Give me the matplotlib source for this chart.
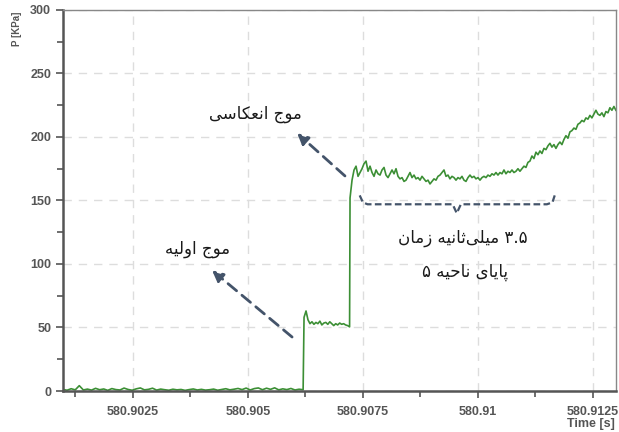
import numpy as np
import matplotlib
matplotlib.use("Agg")
import matplotlib.pyplot as plt
from matplotlib.ticker import MultipleLocator, FuncFormatter

# pressure trace, split where the pressure jumps
base_start, base_end = 580.90098, 580.90620
base_kpa = [1.2, 0.6, 1.8, 0.9, 4.2, 0.8, 1.5, 0.7, 2.1, 1.0, 1.6, 0.5, 1.9, 1.1, 0.8,
            2.3, 1.2, 0.6, 1.7, 2.4, 0.9, 1.3, 2.2, 0.7, 1.5, 1.0, 0.6, 1.4, 0.9, 1.2,
            0.5, 1.1, 1.6, 0.8, 1.3, 0.7, 1.0, 1.5, 0.6, 1.2, 1.8, 0.9, 1.4, 2.0, 1.1,
            2.3, 0.8, 1.9, 2.4, 1.0, 2.2, 1.3, 2.5, 0.9, 1.7, 1.1, 2.0, 0.8, 1.4, 1.0]

incident_start, incident_end = 580.90622, 580.90721
incident_kpa = [58, 63, 56, 53, 54.5, 52.5, 54, 53, 55, 52, 53.5, 54, 52.5, 54.5, 53,
                51.5, 53, 52, 53.5, 52.5, 53, 52, 51.5, 50.5]

reflected_start, reflected_end = 580.90722, 580.91300
reflected_kpa = [152, 166, 174, 177, 169, 172, 175, 179, 181, 173, 177, 172, 169, 174, 171,
                 170, 174, 176, 170, 168, 171, 174, 171, 175, 169, 167, 168, 165, 166, 169,
                 172, 168, 170, 167, 168, 166, 169, 167, 165, 166, 163, 165, 167, 166, 169,
                 170, 172, 174, 169, 170, 167, 169, 168, 166, 168, 167, 169, 166, 165, 168,
                 170, 168, 169, 167, 168, 166, 168, 169, 168, 170, 169, 171, 170, 172, 170,
                 172, 171, 174, 171, 173, 172, 174, 172, 173, 175, 173, 175, 177, 176, 180,
                 181, 185, 183, 188, 186, 189, 187, 191, 190, 193, 195, 192, 194, 191, 194,
                 196, 194, 198, 201, 199, 204, 205, 207, 206, 210, 211, 213, 212, 215, 214,
                 217, 215, 218, 221, 218, 217, 219, 216, 220, 219, 223, 221, 224, 221]

# Persian letter forms: isolated, final, initial, medial (None = does not join forward)
FORMS = {
    "ا": ("\uFE8D", "\uFE8E", None, None),
    "و": ("\uFEED", "\uFEEE", None, None),
    "ز": ("\uFEAF", "\uFEB0", None, None),
    "ث": ("\uFE99", "\uFE9A", "\uFE9B", "\uFE9C"),
    "ج": ("\uFE9D", "\uFE9E", "\uFE9F", "\uFEA0"),
    "ح": ("\uFEA1", "\uFEA2", "\uFEA3", "\uFEA4"),
    "س": ("\uFEB1", "\uFEB2", "\uFEB3", "\uFEB4"),
    "ع": ("\uFEC9", "\uFECA", "\uFECB", "\uFECC"),
    "ل": ("\uFEDD", "\uFEDE", "\uFEDF", "\uFEE0"),
    "م": ("\uFEE1", "\uFEE2", "\uFEE3", "\uFEE4"),
    "ن": ("\uFEE5", "\uFEE6", "\uFEE7", "\uFEE8"),
    "ه": ("\uFEE9", "\uFEEA", "\uFEEB", "\uFEEC"),
    "ی": ("\uFBFC", "\uFBFD", "\uFBFE", "\uFBFF"),
    "ک": ("\uFB8E", "\uFB8F", "\uFB90", "\uFB91"),
    "پ": ("\uFB56", "\uFB57", "\uFB58", "\uFB59"),
}


def joins_forward(ch):
    return ch in FORMS and FORMS[ch][2] is not None


def persian(text):
    shaped = []
    for i, ch in enumerate(text):
        if ch not in FORMS:
            if ch != "\u200c":
                shaped.append(ch)
            continue
        prev_ch = text[i - 1] if i > 0 else ""
        next_ch = text[i + 1] if i + 1 < len(text) else ""
        back = joins_forward(prev_ch)
        fwd = joins_forward(ch) and next_ch in FORMS
        iso, fin, ini, med = FORMS[ch]
        if back and fwd:
            shaped.append(med)
        elif back:
            shaped.append(fin)
        elif fwd:
            shaped.append(ini)
        else:
            shaped.append(iso)
    words = "".join(shaped).split(" ")
    out = []
    for w in reversed(words):
        if any(c in "۰۱۲۳۴۵۶۷۸۹" for c in w):
            out.append(w)
        else:
            out.append(w[::-1])
    return " ".join(out)


time = np.concatenate([np.linspace(base_start, base_end, len(base_kpa)),
                       np.linspace(incident_start, incident_end, len(incident_kpa)),
                       np.linspace(reflected_start, reflected_end, len(reflected_kpa))])
pressure = np.array(base_kpa + incident_kpa + reflected_kpa)

fig = plt.figure(figsize=(6.19, 4.32), dpi=100)
ax = fig.add_axes([0.1018, 0.0949, 0.8932, 0.8821])

ax.plot(time, pressure, color="#3c8f35", lw=1.2)

ax.set_xlim(580.90098, 580.9130)
ax.set_ylim(0, 300)
ax.xaxis.set_major_locator(MultipleLocator(0.0025))
ax.xaxis.set_minor_locator(MultipleLocator(0.00125))
ax.yaxis.set_major_locator(MultipleLocator(50))
ax.yaxis.set_minor_locator(MultipleLocator(25))
ax.xaxis.set_major_formatter(FuncFormatter(lambda v, p: f"{v:.4f}".rstrip("0").rstrip(".")))

tick_font = dict(family="Liberation Sans", weight="bold", size=9)
for lab in ax.get_xticklabels() + ax.get_yticklabels():
    lab.set_fontproperties(matplotlib.font_manager.FontProperties(**tick_font))
    lab.set_color("#555555")
ax.tick_params(which="both", direction="out", color="#555555", width=1.2)
ax.tick_params(which="major", length=5)
ax.tick_params(which="minor", length=4)
ax.tick_params(axis="x", pad=6)

ax.grid(True, which="major", color="#dddddd", lw=1, linestyle=(0, (6, 5)))
for side in ["left", "bottom"]:
    ax.spines[side].set_color("#555555")
    ax.spines[side].set_linewidth(1.8)
for side in ["top", "right"]:
    ax.spines[side].set_color("#888888")
    ax.spines[side].set_linewidth(1.0)

fig.text(17 / 619, 1 - 12 / 432, "P [KPa]", rotation=90, ha="center", va="top",
         color="#555555", family="Liberation Sans", weight="bold", size=7)
fig.text(615 / 619, 1 - 424 / 432, "Time [s]", ha="right", va="center",
         color="#555555", family="Liberation Sans", weight="bold", size=9)

# annotations
arrow_color = "#44546a"
fa_font = dict(family="DejaVu Sans", size=12, color="#1a1a1a", ha="center", va="center")
arrow = dict(arrowstyle="-|>", color=arrow_color, lw=2, linestyle=(0, (4, 2.5)),
             mutation_scale=16, shrinkA=0, shrinkB=0)

ax.text(580.90517, 218, persian("موج انعکاسی"), **fa_font)
ax.annotate("", xy=(580.90607, 203), xytext=(580.90711, 169.3), arrowprops=arrow)

ax.text(580.90391, 112, persian("موج اولیه"), **fa_font)
ax.annotate("", xy=(580.90422, 95), xytext=(580.90596, 42.5), arrowprops=arrow)

# brace under the steady part
bx = [580.90743, 580.90750, 580.90760, 580.90945, 580.90954, 580.90963,
      580.91150, 580.91162, 580.91167]
by = [154, 148.5, 147, 147, 140, 147, 147, 148.5, 154]
ax.plot(bx, by, color=arrow_color, lw=1.6, linestyle=(0, (3, 1.5)))

ax.text(580.90967, 120.5, persian("۳.۵ میلی\u200cثانیه زمان"), **fa_font)
ax.text(580.90972, 93.7, persian("پایای ناحیه ۵"), **fa_font)

fig.savefig("out.png", dpi=100)
